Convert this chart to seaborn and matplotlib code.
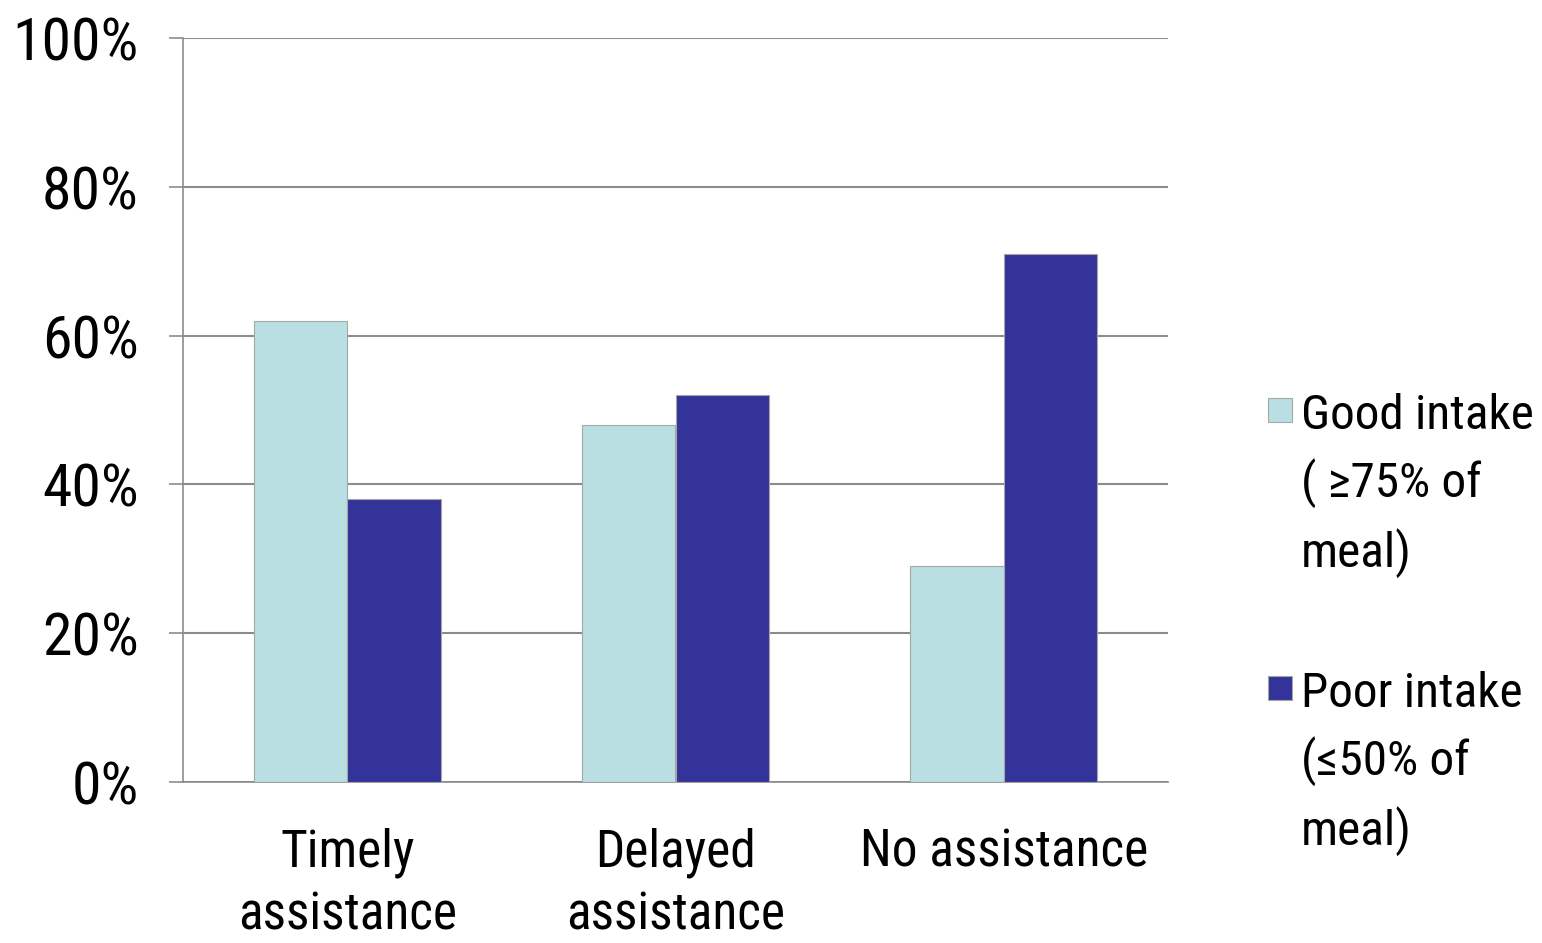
import matplotlib
matplotlib.use("Agg")
import matplotlib.pyplot as plt
from matplotlib import font_manager
from matplotlib.patches import Rectangle
import seaborn as sns
import pandas as pd

categories = ["Timely\nassistance", "Delayed\nassistance", "No assistance"]
series_names = ["Good intake", "Poor intake"]
good_intake = [62, 48, 29]
poor_intake = [38, 52, 71]
legend_labels = ["Good intake\n( \u226575% of\nmeal)", "Poor intake\n(\u226450% of\nmeal)"]
y_ticks = [0, 20, 40, 60, 80, 100]
y_tick_labels = ["0%", "20%", "40%", "60%", "80%", "100%"]
colors = ["#B9DFE2", "#333399"]

sns.set_theme(style="white")
names = {f.name for f in font_manager.fontManager.ttflist}
family = next((n for n in ["Roboto Condensed", "Archivo Narrow", "PT Sans Narrow", "Liberation Sans"]
               if n in names), "DejaVu Sans")
plt.rcParams["font.family"] = [family, "DejaVu Sans"]
plt.rcParams["text.color"] = "black"
plt.rcParams["xtick.color"] = "#8C8C8C"
plt.rcParams["ytick.color"] = "#8C8C8C"
plt.rcParams["xtick.labelcolor"] = "black"
plt.rcParams["ytick.labelcolor"] = "black"

df = pd.DataFrame({
    "category": categories * 2,
    "series": [series_names[0]] * 3 + [series_names[1]] * 3,
    "value": good_intake + poor_intake,
})

fig = plt.figure(figsize=(15.42, 9.43), dpi=100)
ax = fig.add_axes([183 / 1542, 1 - 782 / 943, (1168 - 183) / 1542, (782 - 38) / 943])

sns.barplot(data=df, x="category", y="value", hue="series", order=categories,
            hue_order=series_names, palette=colors, saturation=1, width=0.57, dodge=True,
            edgecolor="#A6A6A6", linewidth=0.8, errorbar=None, legend=False,
            ax=ax, zorder=3)

ax.set_xlim(-0.5, 2.5)
ax.set_ylim(0, 100)
ax.set_yticks(y_ticks)
ax.set_yticklabels(y_tick_labels)
ax.yaxis.grid(True, color="#8C8C8C", linewidth=1.5, zorder=0)
ax.set_axisbelow(True)
ax.set_xlabel("")
ax.set_ylabel("")

# category boundaries carry the tick marks; labels sit at the centres
ax.set_xticks([-0.5, 0.5, 1.5, 2.5], minor=True)
ax.tick_params(axis="x", which="minor", length=13, width=1.2, direction="out")
ax.tick_params(axis="x", which="major", length=0, pad=33, labelsize=37)
ax.tick_params(axis="y", length=10, width=1.2, direction="out",
               pad=22, labelsize=43, left=True)
for t in ax.get_xticklabels():
    t.set_linespacing(1.32)

for side in ["top", "right"]:
    ax.spines[side].set_visible(False)
for side in ["left", "bottom"]:
    ax.spines[side].set_color("#8C8C8C")
    ax.spines[side].set_linewidth(1.2)

# legend: square swatch beside the first line of each label
legend_tops = [398, 676]
for color, label, top in zip(colors, legend_labels, legend_tops):
    fig.patches.append(Rectangle((1268 / 1542, 1 - (top + 24) / 943), 24 / 1542, 24 / 943,
                                 transform=fig.transFigure, facecolor=color,
                                 edgecolor="#A6A6A6", linewidth=0.8))
    fig.text(1301 / 1542, 1 - (top - 5) / 943, label, ha="left", va="top",
             fontsize=35.5, linespacing=1.5)

fig.savefig("out.png", dpi=100)
